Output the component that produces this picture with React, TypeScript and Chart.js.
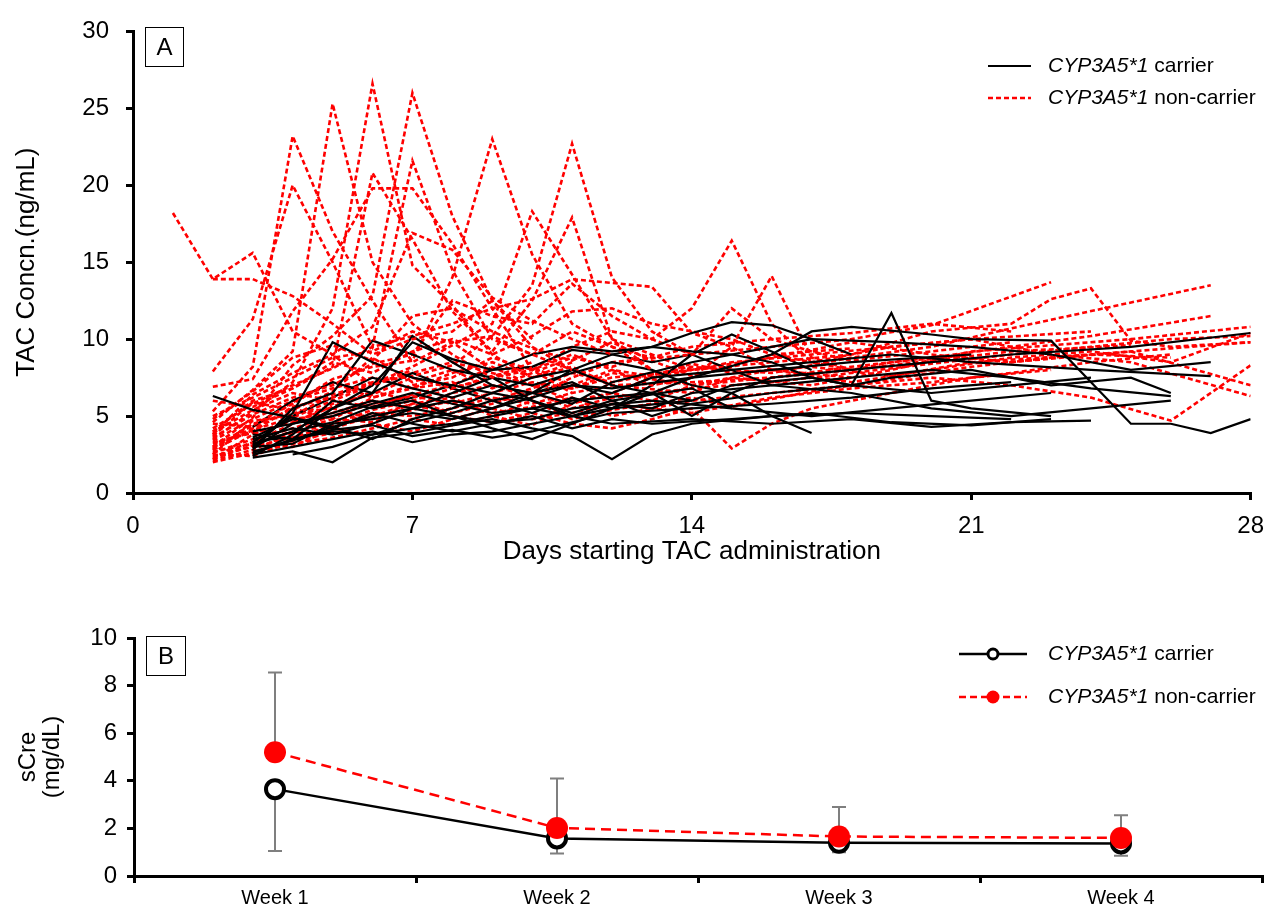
import { useEffect, useRef } from 'react';
import { Chart, registerables } from 'chart.js';

Chart.register(...registerables);

const FONT = '"Liberation Sans", Arial, Helvetica, sans-serif';

// ---------- Panel A: TAC concentration per patient (day, ng/mL) ----------
// CYP3A5*1 carriers
const C1 = [[2, 6.3], [3, 5.4], [4, 4.9], [5, 4.3], [6, 5.0], [7, 5.5], [8, 5.0], [9, 4.6], [10, 4.8], [11, 5.5], [13, 6.0], [15, 5.5]];
const C2 = [[3, 2.3], [4, 2.7], [5, 2.0], [6, 3.6], [7, 3.9], [8, 4.4], [9, 4.8], [10, 4.2], [11, 3.7], [12, 2.2], [13, 3.8], [14, 4.5], [16, 5.0], [18, 5.2], [20, 5.0], [22, 4.8]];
const C3 = [[3, 2.6], [4, 3.5], [5, 5.5], [6, 7.0], [7, 9.8], [8, 8.7], [9, 8.0], [10, 9.0], [11, 9.5], [12, 9.2], [13, 9.5], [14, 10.4], [15, 11.1], [16, 10.9], [17, 10.0], [18, 9.0]];
const C4 = [[3, 3.0], [4, 5.2], [5, 9.8], [6, 8.5], [7, 7.5], [8, 7.0], [9, 6.5], [10, 7.5], [11, 8.0], [12, 7.0], [13, 6.5], [14, 7.5], [16, 8.0], [18, 8.5], [21, 9.0]];
const C5 = [[3, 2.8], [4, 5.5], [5, 6.5], [6, 9.9], [7, 9.0], [8, 8.0], [9, 7.5], [10, 6.0], [11, 5.0], [12, 5.5], [14, 6.0]];
const C6 = [[3, 3.2], [4, 4.0], [5, 5.5], [6, 6.5], [7, 10.2], [8, 8.5], [9, 7.0], [10, 6.5], [11, 7.0], [12, 6.8], [14, 7.5], [16, 9.0], [17, 10.5], [18, 10.8], [20, 10.3], [21, 10.0], [23, 9.9], [25, 4.5], [26, 4.5], [27, 3.9], [28, 4.8]];
const C7 = [[3, 2.5], [4, 3.0], [5, 3.5], [6, 4.0], [7, 3.3], [8, 3.8], [9, 4.0], [10, 4.5], [11, 5.0], [12, 4.5], [14, 4.8], [16, 4.5], [18, 4.8], [20, 4.3], [22, 4.6], [24, 4.7]];
const C8 = [[3, 3.5], [4, 4.2], [5, 3.8], [6, 4.5], [7, 5.5], [8, 6.0], [9, 5.5], [10, 6.2], [11, 7.0], [12, 6.5], [13, 7.5], [15, 8.0], [17, 8.5], [19, 9.0], [21, 8.5], [24, 8.0], [27, 7.6]];
const C9 = [[3, 2.4], [4, 3.8], [5, 6.0], [6, 5.5], [7, 6.0], [8, 5.0], [9, 4.2], [10, 3.5], [11, 4.5], [12, 5.5], [13, 6.5], [14, 6.0], [15, 7.0], [17, 7.5], [18, 7.0], [19, 11.7], [20, 6.0], [21, 5.5], [23, 5.0]];
const C10 = [[3, 4.0], [4, 4.5], [5, 5.0], [6, 5.8], [7, 6.5], [8, 5.8], [9, 5.2], [10, 5.5], [11, 6.0], [13, 6.5], [14, 5.0], [15, 6.5], [16, 7.5], [18, 8.0], [20, 8.5], [22, 9.0], [25, 9.5], [28, 10.4]];
const C11 = [[3, 3.0], [4, 3.2], [5, 4.5], [6, 4.8], [7, 5.2], [8, 4.8], [9, 5.5], [10, 6.5], [11, 8.0], [12, 9.0], [13, 9.5], [14, 9.2], [15, 9.0], [16, 8.5], [17, 7.5], [18, 7.0], [19, 7.5], [21, 8.0], [23, 7.0], [25, 7.5], [26, 6.5]];
const C12 = [[3, 3.8], [4, 3.5], [5, 4.0], [6, 3.8], [7, 4.2], [8, 4.5], [9, 5.0], [10, 5.5], [11, 5.0], [12, 5.8], [13, 5.5], [14, 6.5], [16, 7.0], [18, 7.5], [20, 8.0], [22, 7.5], [24, 6.8], [26, 6.3]];
const C13 = [[3, 2.7], [4, 3.4], [5, 4.3], [6, 3.5], [7, 4.8], [8, 5.5], [9, 6.5], [10, 6.0], [11, 5.2], [12, 6.0], [14, 6.8], [15, 5.5], [17, 5.0], [19, 5.5], [21, 6.0], [23, 6.5]];
const C14 = [[3, 3.3], [4, 5.0], [5, 6.2], [6, 7.5], [7, 6.8], [8, 6.2], [9, 7.0], [10, 6.5], [11, 5.8], [12, 7.2], [14, 8.5], [16, 9.5], [17, 10.0], [19, 9.8], [21, 9.5], [23, 9.0], [25, 8.0], [27, 8.5]];
const C15 = [[3, 2.9], [4, 4.5], [5, 5.2], [6, 6.0], [7, 5.5], [8, 6.5], [9, 7.5], [10, 7.0], [11, 7.8], [12, 8.5], [13, 8.0], [14, 7.0], [15, 6.5], [16, 5.0], [17, 3.9]];
const C16 = [[3, 3.6], [4, 4.8], [5, 4.2], [6, 5.2], [7, 4.5], [8, 4.0], [9, 4.5], [10, 5.0], [11, 4.2], [12, 4.8], [13, 4.5], [15, 4.8], [17, 5.2], [19, 4.6], [21, 4.4], [23, 4.8]];
const C17 = [[4, 2.5], [5, 3.0], [6, 3.8], [7, 4.6], [8, 5.2], [9, 6.0], [10, 6.5], [11, 7.2], [12, 6.0], [13, 5.0], [14, 5.8], [16, 6.5], [18, 7.0], [20, 6.5], [22, 7.0], [24, 7.5]];
const C18 = [[3, 4.3], [4, 6.0], [5, 7.2], [6, 6.5], [7, 7.8], [8, 6.8], [9, 6.0], [10, 5.2], [11, 6.2], [12, 5.5], [13, 7.0], [14, 9.0], [15, 10.3], [16, 9.2], [17, 8.0]];
const C19 = [[3, 3.1], [4, 4.0], [5, 4.6], [6, 5.6], [7, 6.2], [8, 7.0], [9, 8.0], [10, 8.2], [11, 9.3], [12, 9.0], [13, 8.5], [14, 9.0], [15, 8.0], [16, 7.0], [18, 6.5], [20, 5.5], [22, 5.0], [24, 5.5], [26, 6.0]];
const C20 = [[3, 3.4], [4, 3.6], [5, 4.1], [6, 4.4], [7, 3.7], [8, 4.1], [9, 3.6], [10, 4.0], [11, 4.6], [12, 5.2], [14, 5.5], [16, 5.8], [18, 6.2], [20, 6.8], [22, 7.2]];

// CYP3A5*1 non-carriers
const R1 = [[1, 18.2], [2, 13.9], [3, 15.6], [4, 10.5], [5, 9.0], [6, 7.0], [7, 8.0]];
const R2 = [[2, 13.9], [3, 13.9], [4, 12.8], [5, 11.0], [6, 9.0], [7, 10.0], [8, 10.5], [9, 12.5], [10, 10.0]];
const R3 = [[2, 7.9], [3, 11.3], [4, 20.0], [5, 15.0], [6, 9.5], [7, 21.6], [8, 14.5], [9, 10.0], [10, 9.0], [11, 8.0]];
const R4 = [[2, 5.3], [3, 8.2], [4, 23.2], [5, 17.0], [6, 12.5], [7, 8.5], [8, 9.8], [9, 8.0]];
const R5 = [[2, 4.6], [3, 6.7], [4, 9.2], [5, 25.3], [6, 15.0], [7, 11.0], [8, 9.0], [9, 7.5], [10, 8.5]];
const R6 = [[2, 3.5], [3, 5.3], [4, 7.2], [5, 12.0], [6, 26.6], [7, 14.8], [8, 12.2], [9, 9.0], [10, 7.5], [11, 8.5]];
const R7 = [[2, 3.0], [3, 4.9], [4, 8.3], [5, 10.2], [6, 12.8], [7, 26.0], [8, 18.0], [9, 12.5], [10, 9.5], [11, 8.0], [12, 7.0]];
const R8 = [[2, 4.0], [3, 6.0], [4, 6.8], [5, 8.2], [6, 20.8], [7, 16.5], [8, 11.8], [9, 9.2], [10, 12.5], [11, 17.9], [12, 10.0], [13, 8.0]];
const R9 = [[2, 6.9], [3, 7.4], [4, 11.8], [5, 15.2], [6, 19.8], [7, 19.8], [8, 16.2], [9, 12.0], [10, 8.0], [11, 6.5]];
const R10 = [[2, 3.8], [3, 6.4], [4, 7.8], [5, 9.0], [6, 10.8], [7, 16.9], [8, 15.8], [9, 12.7], [10, 11.2], [11, 10.0], [12, 9.0]];
const R11 = [[2, 2.8], [3, 4.4], [4, 5.8], [5, 7.4], [6, 8.2], [7, 8.6], [8, 14.0], [9, 23.0], [10, 15.5], [11, 11.0], [12, 9.5], [13, 8.0]];
const R12 = [[2, 3.2], [3, 4.0], [4, 5.6], [5, 6.2], [6, 7.1], [7, 8.2], [8, 9.6], [9, 11.0], [10, 18.3], [11, 14.2], [12, 10.0], [13, 9.0]];
const R13 = [[2, 2.5], [3, 4.7], [4, 5.0], [5, 6.4], [6, 7.2], [7, 7.6], [8, 8.3], [9, 10.2], [10, 13.5], [11, 22.7], [12, 14.0], [13, 10.5], [14, 9.0]];
const R14 = [[2, 4.2], [3, 5.8], [4, 7.0], [5, 8.1], [6, 9.5], [7, 10.2], [8, 11.0], [9, 12.0], [10, 12.6], [11, 13.9], [13, 13.4], [14, 10.4], [15, 9.5], [16, 8.0], [18, 7.5]];
const R15 = [[2, 3.6], [3, 5.1], [4, 6.2], [5, 7.0], [6, 8.4], [7, 9.0], [8, 12.5], [9, 11.5], [10, 11.0], [11, 13.6], [12, 11.5], [13, 10.0], [14, 12.0], [15, 16.4], [16, 11.0], [17, 8.5], [18, 8.0]];
const R16 = [[2, 2.3], [3, 3.3], [4, 4.5], [5, 5.8], [6, 6.4], [7, 7.5], [8, 6.8], [9, 7.5], [10, 8.0], [11, 9.0], [12, 8.0], [13, 7.0], [14, 7.5], [15, 9.5], [16, 14.1], [17, 8.8], [18, 8.0], [19, 8.5], [21, 9.0]];
const R17 = [[2, 2.2], [3, 3.8], [4, 4.8], [5, 5.2], [6, 6.0], [7, 5.5], [8, 6.5], [9, 7.0], [10, 6.2], [11, 7.5], [12, 8.5], [14, 9.0], [16, 9.5], [18, 10.0], [20, 10.9], [23, 13.7]];
const R18 = [[2, 2.6], [3, 3.5], [4, 4.2], [5, 5.0], [6, 5.8], [7, 6.3], [8, 5.8], [9, 6.5], [10, 7.2], [11, 6.8], [12, 7.5], [14, 8.0], [16, 8.5], [18, 9.0], [20, 10.5], [22, 11.0], [23, 12.6], [24, 13.3], [25, 9.9], [26, 9.5], [28, 9.8]];
const R19 = [[2, 3.0], [3, 4.2], [4, 5.5], [5, 4.8], [6, 6.2], [7, 6.8], [8, 7.2], [9, 6.0], [10, 6.8], [11, 7.8], [12, 7.2], [14, 8.2], [16, 7.8], [18, 8.8], [20, 9.5], [22, 10.7], [27, 13.5]];
const R20 = [[2, 2.4], [3, 3.0], [4, 3.6], [5, 4.4], [6, 5.2], [7, 5.0], [8, 5.5], [9, 6.2], [10, 5.8], [11, 6.5], [12, 7.0], [14, 7.2], [16, 7.5], [18, 8.2], [20, 8.8], [22, 9.5], [24, 10.2], [27, 11.5]];
const R21 = [[2, 3.4], [3, 4.8], [4, 6.0], [5, 6.8], [6, 7.5], [7, 6.8], [8, 7.8], [9, 8.5], [10, 7.5], [11, 8.2], [12, 7.0], [14, 6.5], [15, 7.5], [17, 7.0], [19, 8.0], [21, 9.2], [23, 9.6], [25, 10.0], [28, 10.8]];
const R22 = [[2, 2.7], [3, 3.2], [4, 4.0], [5, 4.8], [6, 4.6], [7, 5.4], [8, 6.0], [9, 5.2], [10, 5.6], [11, 6.2], [12, 5.0], [13, 5.5], [14, 6.0], [16, 6.5], [18, 7.0], [20, 7.5], [22, 7.0], [24, 6.2], [26, 4.7], [28, 8.3]];
const R23 = [[2, 3.9], [3, 5.4], [4, 6.5], [5, 6.0], [6, 7.0], [7, 7.8], [8, 8.5], [9, 7.8], [10, 7.0], [11, 6.0], [12, 6.5], [13, 7.5], [15, 8.5], [17, 9.0], [19, 9.5], [21, 10.0], [23, 9.0], [25, 8.5], [28, 6.3]];
const R24 = [[2, 2.9], [3, 4.5], [4, 5.2], [5, 5.5], [6, 4.8], [7, 5.8], [8, 5.0], [9, 4.6], [10, 5.2], [11, 4.5], [12, 4.2], [13, 4.8], [14, 5.5], [15, 2.9], [16, 4.5], [17, 5.5], [19, 6.5], [21, 7.5], [23, 8.0]];
const R25 = [[2, 5.0], [3, 6.2], [4, 7.5], [5, 8.8], [6, 9.2], [7, 10.5], [8, 9.8], [9, 10.2], [10, 9.0], [11, 10.5], [12, 9.5], [13, 8.8], [14, 9.5], [16, 10.0], [18, 10.4], [20, 11.0], [22, 10.5]];
const R26 = [[2, 2.1], [3, 2.8], [4, 3.9], [5, 4.5], [6, 5.4], [7, 6.0], [8, 5.2], [9, 5.8], [10, 6.6], [11, 5.5], [12, 6.2], [14, 6.8], [16, 7.2], [18, 7.8], [20, 8.4], [22, 9.0], [24, 9.5], [26, 10.0], [28, 10.2]];
const R27 = [[2, 3.3], [3, 3.9], [4, 4.6], [5, 5.6], [6, 6.6], [7, 6.0], [8, 6.8], [9, 7.6], [10, 8.2], [11, 7.0], [12, 8.0], [13, 7.6], [14, 8.4], [15, 7.8], [17, 8.2], [19, 7.6], [21, 8.5], [24, 9.0], [26, 8.8]];
const R28 = [[2, 4.5], [3, 4.3], [4, 5.9], [5, 7.2], [6, 6.2], [7, 7.0], [8, 7.5], [9, 8.8], [10, 8.0], [11, 9.5], [12, 10.5], [13, 10.0], [14, 9.0], [15, 12.0], [16, 10.0], [17, 9.2], [18, 8.6], [20, 9.2], [22, 9.8]];
const R29 = [[2, 2.5], [3, 2.4], [4, 3.4], [5, 3.9], [6, 4.5], [7, 4.0], [8, 4.8], [9, 5.5], [10, 4.8], [11, 5.2], [12, 5.8], [14, 5.2], [16, 6.2], [18, 6.8], [20, 7.2], [22, 7.8], [24, 8.5], [26, 9.0]];
const R30 = [[2, 6.0], [3, 5.6], [4, 6.8], [5, 8.5], [6, 7.8], [7, 9.2], [8, 10.0], [9, 9.0], [10, 10.2], [11, 11.8], [12, 12.0], [13, 11.0], [14, 10.5], [15, 10.0], [16, 9.0], [17, 8.5], [19, 9.5], [21, 10.0], [24, 10.5]];
const R31 = [[2, 2.2], [3, 3.1], [4, 3.0], [5, 4.2], [6, 5.0], [7, 5.8], [8, 6.2], [9, 5.0], [10, 4.4], [11, 5.8], [12, 6.5], [13, 6.0], [14, 7.0], [16, 7.5], [18, 8.0], [20, 8.6], [22, 9.2], [25, 9.6]];
const R32 = [[2, 3.7], [3, 5.9], [4, 5.4], [5, 6.6], [6, 8.8], [7, 7.2], [8, 8.0], [9, 6.8], [10, 7.8], [11, 8.8], [12, 8.2], [13, 9.0], [14, 8.0], [16, 8.8], [18, 9.8], [20, 9.0], [22, 8.5], [25, 9.2], [28, 7.0]];
const R33 = [[2, 4.8], [3, 6.6], [4, 8.8], [5, 9.6], [6, 8.6], [7, 11.5], [8, 12.0], [9, 10.5], [10, 9.4], [11, 8.6], [12, 9.8], [13, 8.6], [14, 7.6], [15, 8.2], [16, 9.0], [18, 9.4]];
const R34 = [[2, 2.0], [3, 2.6], [4, 3.2], [5, 3.6], [6, 4.2], [7, 4.8], [8, 4.4], [9, 5.0], [10, 6.0], [11, 4.8], [12, 5.4], [14, 6.2], [15, 5.6], [17, 6.6], [19, 7.4], [21, 8.2], [23, 8.8], [26, 9.4], [28, 9.8]];
const R35 = [[2, 2.8], [3, 4.1], [4, 4.9], [5, 6.0], [6, 5.6], [7, 6.4], [8, 7.0], [9, 8.2], [10, 7.0], [11, 6.8], [12, 7.8], [14, 7.0], [16, 8.0], [18, 7.2], [20, 8.0], [22, 8.8], [24, 9.2], [26, 8.5], [28, 10.4]];

const carrierSeries = [C1, C2, C3, C4, C5, C6, C7, C8, C9, C10, C11, C12, C13, C14, C15, C16, C17, C18, C19, C20];
const nonCarrierSeries = [R1, R2, R3, R4, R5, R6, R7, R8, R9, R10, R11, R12, R13, R14, R15, R16, R17, R18, R19, R20, R21, R22, R23, R24, R25, R26, R27, R28, R29, R30, R31, R32, R33, R34, R35];

// ---------- Panel B: serum creatinine by week ----------
const weekLabels = ['Week 1', 'Week 2', 'Week 3', 'Week 4'];
const carrierSCre = [3.65, 1.58, 1.4, 1.37];
const nonCarrierSCre = [5.2, 2.02, 1.66, 1.6];
const nonCarrierUpper = [8.55, 4.1, 2.9, 2.55];
const carrierLower = [1.05, 0.95, 1.0, 0.85];

const LEGEND_CARRIER = ['CYP3A5*1', ' carrier'];
const LEGEND_NONCARRIER = ['CYP3A5*1', ' non-carrier'];

function drawMixedText(ctx: CanvasRenderingContext2D, x: number, y: number, parts: string[], size: number) {
  ctx.textAlign = 'left';
  ctx.textBaseline = 'middle';
  ctx.fillStyle = '#000';
  ctx.font = `italic ${size}px ${FONT}`;
  ctx.fillText(parts[0], x, y);
  const w = ctx.measureText(parts[0]).width;
  ctx.font = `${size}px ${FONT}`;
  ctx.fillText(parts[1], x + w, y);
}

function drawPanelBox(ctx: CanvasRenderingContext2D, x: number, y: number, w: number, h: number, letter: string) {
  ctx.strokeStyle = '#000';
  ctx.lineWidth = 1;
  ctx.setLineDash([]);
  ctx.strokeRect(x + 0.5, y + 0.5, w, h);
  ctx.fillStyle = '#000';
  ctx.font = `24px ${FONT}`;
  ctx.textAlign = 'center';
  ctx.textBaseline = 'middle';
  ctx.fillText(letter, x + w / 2 + 0.5, y + h / 2 + 1.5);
}

const overlayA = {
  id: 'overlayA',
  afterDraw(chart: any) {
    const ctx: CanvasRenderingContext2D = chart.ctx;
    ctx.save();
    drawPanelBox(ctx, 145, 27, 38, 39, 'A');
    ctx.lineWidth = 2;
    ctx.strokeStyle = '#000';
    ctx.setLineDash([]);
    ctx.beginPath();
    ctx.moveTo(988, 66);
    ctx.lineTo(1031, 66);
    ctx.stroke();
    ctx.strokeStyle = '#ff0000';
    ctx.lineWidth = 2.5;
    ctx.setLineDash([5, 3]);
    ctx.beginPath();
    ctx.moveTo(988, 98);
    ctx.lineTo(1031, 98);
    ctx.stroke();
    ctx.setLineDash([]);
    drawMixedText(ctx, 1048, 66, LEGEND_CARRIER, 21);
    drawMixedText(ctx, 1048, 98, LEGEND_NONCARRIER, 21);
    ctx.restore();
  },
};

const overlayB = {
  id: 'overlayB',
  beforeDatasetsDraw(chart: any) {
    const ctx: CanvasRenderingContext2D = chart.ctx;
    const xs = chart.scales.x;
    const ys = chart.scales.y;
    ctx.save();
    ctx.strokeStyle = '#7f7f7f';
    ctx.lineWidth = 2;
    ctx.setLineDash([]);
    const cap = 7;
    weekLabels.forEach((_, i) => {
      const px = xs.getPixelForValue(i);
      const up = ys.getPixelForValue(nonCarrierUpper[i]);
      const upFrom = ys.getPixelForValue(nonCarrierSCre[i]);
      const lo = ys.getPixelForValue(carrierLower[i]);
      const loFrom = ys.getPixelForValue(carrierSCre[i]);
      ctx.beginPath();
      ctx.moveTo(px, upFrom);
      ctx.lineTo(px, up);
      ctx.moveTo(px - cap, up);
      ctx.lineTo(px + cap, up);
      ctx.moveTo(px, loFrom);
      ctx.lineTo(px, lo);
      ctx.moveTo(px - cap, lo);
      ctx.lineTo(px + cap, lo);
      ctx.stroke();
    });
    ctx.restore();
  },
  afterDraw(chart: any) {
    const ctx: CanvasRenderingContext2D = chart.ctx;
    ctx.save();
    const o = 600; // panel B canvas begins at page y = 600
    drawPanelBox(ctx, 146, 636 - o, 39, 39, 'B');
    const y1 = 654 - o;
    const y2 = 697 - o;
    ctx.strokeStyle = '#000';
    ctx.lineWidth = 2.5;
    ctx.setLineDash([]);
    ctx.beginPath();
    ctx.moveTo(959, y1);
    ctx.lineTo(1027, y1);
    ctx.stroke();
    ctx.beginPath();
    ctx.arc(993, y1, 5, 0, Math.PI * 2);
    ctx.fillStyle = '#fff';
    ctx.fill();
    ctx.lineWidth = 3;
    ctx.stroke();
    ctx.strokeStyle = '#ff0000';
    ctx.lineWidth = 2.5;
    ctx.setLineDash([7, 4]);
    ctx.beginPath();
    ctx.moveTo(959, y2);
    ctx.lineTo(1027, y2);
    ctx.stroke();
    ctx.setLineDash([]);
    ctx.beginPath();
    ctx.arc(993, y2, 6.5, 0, Math.PI * 2);
    ctx.fillStyle = '#ff0000';
    ctx.fill();
    drawMixedText(ctx, 1048, y1, LEGEND_CARRIER, 21);
    drawMixedText(ctx, 1048, y2, LEGEND_NONCARRIER, 21);
    ctx.restore();
  },
};

const axisCommon = {
  border: { display: true, color: '#000', width: 3 },
  grid: {
    display: true,
    drawOnChartArea: false,
    drawTicks: true,
    tickLength: 7,
    tickWidth: 3,
    tickColor: '#000',
    color: '#000',
    lineWidth: 3,
  },
};

function toXY(series: number[][]) {
  return series.map((p) => ({ x: p[0], y: p[1] }));
}

export default function App() {
  const refA = useRef<HTMLCanvasElement | null>(null);
  const refB = useRef<HTMLCanvasElement | null>(null);

  useEffect(() => {
    if (!refA.current || !refB.current) return;

    const redSets = nonCarrierSeries.map((s) => ({
      data: toXY(s),
      borderColor: '#ff0000',
      borderWidth: 2.6,
      borderDash: [5, 3],
      pointRadius: 0,
      fill: false,
      tension: 0,
    }));
    const blackSets = carrierSeries.map((s) => ({
      data: toXY(s),
      borderColor: '#000000',
      borderWidth: 2.2,
      pointRadius: 0,
      fill: false,
      tension: 0,
    }));
    const datasetsA: any[] = [];
    const n = Math.max(redSets.length, blackSets.length);
    for (let i = 0; i < n; i++) {
      if (i < redSets.length) datasetsA.push(redSets[i]);
      if (i < blackSets.length) datasetsA.push(blackSets[i]);
    }

    const chartA = new Chart(refA.current, {
      type: 'line',
      data: { datasets: datasetsA },
      options: {
        animation: false,
        responsive: false,
        events: [],
        layout: { padding: { left: 11, top: 24, right: 14, bottom: 0 } },
        plugins: { legend: { display: false }, tooltip: { enabled: false } },
        scales: {
          x: {
            type: 'linear',
            min: 0,
            max: 28,
            ...axisCommon,
            ticks: { stepSize: 7, color: '#000', padding: 12, font: { family: FONT, size: 24 } },
            title: {
              display: true,
              text: 'Days starting TAC administration',
              color: '#000',
              font: { family: FONT, size: 26 },
              padding: { top: 0, bottom: 33 },
            },
            afterFit(scale: any) {
              scale.height = 107;
            },
          },
          y: {
            type: 'linear',
            min: 0,
            max: 30,
            ...axisCommon,
            ticks: { stepSize: 5, color: '#000', padding: 17, font: { family: FONT, size: 24 } },
            title: {
              display: true,
              text: 'TAC Concn.(ng/mL)',
              color: '#000',
              font: { family: FONT, size: 26 },
              padding: 0,
            },
            afterFit(scale: any) {
              scale.width = 122;
            },
          },
        },
      } as any,
      plugins: [overlayA],
    });

    const chartB = new Chart(refB.current, {
      type: 'line',
      data: {
        labels: weekLabels,
        datasets: [
          {
            label: 'CYP3A5*1 non-carrier',
            data: nonCarrierSCre,
            borderColor: '#ff0000',
            borderWidth: 2.5,
            borderDash: [10, 6],
            pointRadius: 11,
            pointBackgroundColor: '#ff0000',
            pointBorderColor: '#ff0000',
            pointBorderWidth: 0,
            fill: false,
            tension: 0,
          },
          {
            label: 'CYP3A5*1 carrier',
            data: carrierSCre,
            borderColor: '#000000',
            borderWidth: 2.5,
            pointRadius: 9,
            pointBackgroundColor: '#ffffff',
            pointBorderColor: '#000000',
            pointBorderWidth: 4,
            fill: false,
            tension: 0,
          },
        ],
      },
      options: {
        animation: false,
        responsive: false,
        events: [],
        layout: { padding: { left: 16, top: 38, right: 14, bottom: 0 } },
        plugins: { legend: { display: false }, tooltip: { enabled: false } },
        scales: {
          x: {
            type: 'category',
            offset: true,
            ...axisCommon,
            grid: { ...axisCommon.grid, offset: true },
            ticks: { color: '#000', padding: 3, font: { family: FONT, size: 20 } },
            afterFit(scale: any) {
              scale.height = 33;
            },
          },
          y: {
            type: 'linear',
            min: 0,
            max: 10,
            ...axisCommon,
            ticks: { stepSize: 2, color: '#000', padding: 10, font: { family: FONT, size: 24 } },
            title: {
              display: true,
              text: ['sCre', '(mg/dL)'],
              color: '#000',
              font: { family: FONT, size: 24, lineHeight: 1.0 },
              padding: 0,
            },
            afterFit(scale: any) {
              scale.width = 118;
            },
          },
        },
      } as any,
      plugins: [overlayB],
    });

    return () => {
      chartA.destroy();
      chartB.destroy();
    };
  }, []);

  return (
    <div style={{ position: 'absolute', left: 0, top: 0, width: 1276, height: 909, background: '#fff' }}>
      <canvas
        ref={refA}
        width={1276}
        height={600}
        style={{ position: 'absolute', left: 0, top: 0, width: 1276, height: 600 }}
      />
      <canvas
        ref={refB}
        width={1276}
        height={309}
        style={{ position: 'absolute', left: 0, top: 600, width: 1276, height: 309 }}
      />
    </div>
  );
}
